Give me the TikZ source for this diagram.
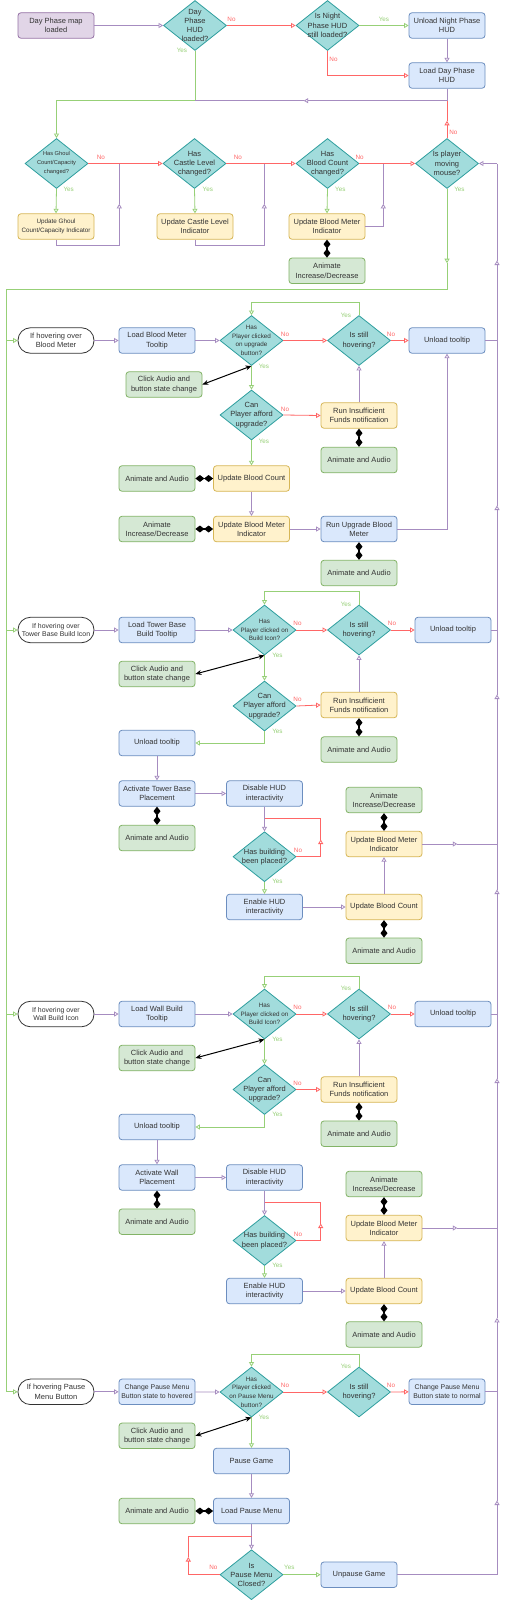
\documentclass[tikz,border=0pt]{standalone}
\usepackage{fontspec}
\setmainfont{Liberation Sans}
\usetikzlibrary{arrows.meta,shapes.geometric}
\definecolor{txt}{HTML}{333333}
\definecolor{purF}{HTML}{E1D5E7}\definecolor{purS}{HTML}{9673A6}
\definecolor{bluF}{HTML}{DAE8FC}\definecolor{bluS}{HTML}{6C8EBF}
\definecolor{yelF}{HTML}{FFF2CC}\definecolor{yelS}{HTML}{D6B656}
\definecolor{grnF}{HTML}{D5E8D4}\definecolor{grnS}{HTML}{82B366}
\definecolor{diaF}{HTML}{A2DCDC}\definecolor{diaS}{HTML}{2E9E9E}
\definecolor{pline}{HTML}{A68CC0}
\definecolor{rline}{HTML}{FF6666}
\definecolor{gline}{HTML}{97D077}
\newcommand{\fnorm}{\fontsize{7.5}{9.2}\selectfont}
\newcommand{\fmid}{\fontsize{6.9}{8.8}\selectfont}
\newcommand{\fsml}{\fontsize{6.3}{8.7}\selectfont}
\newcommand{\ftny}{\fontsize{5.7}{9}\selectfont}
\begin{document}
\begin{tikzpicture}[x=1pt,y=-1pt,
  base/.style={rounded corners=3pt, minimum width=76pt, minimum height=25.5pt, align=center, font=\fnorm, text=txt, line width=0.8pt, inner sep=1pt},
  pbox/.style={base, draw=purS, fill=purF},
  bbox/.style={base, draw=bluS, fill=bluF},
  ybox/.style={base, draw=yelS, fill=yelF},
  gbox/.style={base, draw=grnS, fill=grnF},
  term/.style={base, rounded corners=12.5pt, draw=black!80, fill=white},
  dia/.style={diamond, draw=diaS, fill=diaF, line width=0.8pt, minimum width=63pt, minimum height=50pt, inner sep=0pt},
  dt/.style={align=center, font=\fnorm, text=txt, inner sep=0pt},
  dts/.style={dt, font=\fsml},
  dtt/.style={dt, font=\ftny},
  pl/.style={draw=pline, line width=0.8pt},
  pa/.style={pl, -{Triangle[open, length=4.5pt, width=5pt]}},
  rl/.style={draw=rline, line width=0.8pt},
  ra/.style={rl, -{Triangle[open, length=4.5pt, width=5pt]}},
  gl/.style={draw=gline, line width=0.8pt},
  ga/.style={gl, -{Triangle[open, length=4.5pt, width=5pt]}},
  nol/.style={text=rline, font=\fsml, inner sep=0pt},
  yesl/.style={text=gline, font=\fsml, inner sep=0pt},
  dd/.style={draw=black, line width=1.2pt, {Diamond[length=9pt,width=7pt]}-{Diamond[length=9pt,width=7pt]}},
  bk/.style={draw=black, line width=1pt, {Stealth[length=6pt,width=5pt]}-{Stealth[length=6pt,width=5pt]}}
]
\fill[white] (0,0) rectangle (504,1600);
\useasboundingbox (0,0) rectangle (504,1600);

% ---------- top ----------
\node[pbox] (start) at (56,25.5) {Day Phase map\\loaded};
\node[dia, label={[dt]center:{Day\\Phase\\HUD\\loaded?}}] (dA) at (195,25.5) {};
\node[dia, label={[dt]center:{Is Night\\Phase HUD\\still loaded?}}] (dB) at (327.5,25.5) {};
\node[bbox] (unN) at (447,25.5) {Unload Night Phase\\HUD};
\node[bbox] (ldD) at (447,75.5) {Load Day Phase\\HUD};

\draw[pa] (start) -- (dA);
\draw[ra] (dA.east) -- (dB.west);
\node[nol] at (231.5,19) {No};
\draw[ga] (dB.east) -- (unN.west);
\node[yesl] at (384,19) {Yes};
\draw[pa] (unN) -- (ldD);
\draw[ra] (dB.south) |- (ldD.west);
\node[nol] at (333.5,59) {No};

% ---------- row 2 ----------
\node[dia, label={[dtt]center:{Has Ghoul\\Count/Capacity\\changed?}}] (dG) at (56.5,163.5) {};
\node[dia, label={[dt]center:{Has\\Castle Level\\changed?}}] (dC) at (194.5,163.5) {};
\node[dia, label={[dt]center:{Has\\Blood Count\\changed?}}] (dBC) at (327.5,163.5) {};
\node[dia, label={[dt]center:{Is player\\moving\\mouse?}}] (dM) at (447,163.5) {};
\node[ybox, font=\fsml] (uG) at (56,226.5) {Update Ghoul\\Count/Capacity Indicator};
\node[ybox] (uC) at (195,226.5) {Update Castle Level\\Indicator};
\node[ybox] (uB) at (327,226.5) {Update Blood Meter\\Indicator};
\node[gbox] (aB) at (327,270.8) {Animate\\Increase/Decrease};

\draw[ga] (dA.south) -- (195,100.7) -- (56.5,100.7) -- (dG.north);
\node[yesl] at (182,50.7) {Yes};
\draw[pa] (ldD.south) |- (303.7,100.7);
\draw[pl] (303.7,100.7) -- (195,100.7);
\draw[ra] (dM.north) -- (447,120.8);
\draw[rl] (447,120.8) -- (447,100.7);
\node[nol] at (453.3,132.3) {No};

\draw[ra] (dG.east) -- (dC.west);
\node[nol] at (100.8,157.3) {No};
\draw[ra] (dC.east) -- (dBC.west);
\node[nol] at (237.8,157.3) {No};
\draw[ra] (dBC.east) -- (dM.west);
\node[nol] at (359.7,157.3) {No};
\draw[ga] (dG.south) -- (uG.north);
\node[yesl] at (68.7,189.3) {Yes};
\draw[ga] (dC.south) -- (uC.north);
\node[yesl] at (207.8,189.3) {Yes};
\draw[ga] (dBC.south) -- (uB.north);
\node[yesl] at (340.3,189.3) {Yes};
\node[yesl] at (459.5,189.3) {Yes};

\draw[pa] (uG.south) |- (119.3,245.7) -- (119.3,203.8);
\draw[pl] (119.3,203.8) -- (119.3,163.5);
\draw[pa] (uC.south) |- (264.3,245.7) -- (264.3,203.8);
\draw[pl] (264.3,203.8) -- (264.3,163.5);
\draw[pa] (uB.east) -| (383.3,203.8);
\draw[pl] (383.3,203.8) -- (383.3,163.5);
\draw[dd] (uB.south) -- (aB.north);

% ---------- section 1 : blood meter ----------
\node[term] (t1) at (56,340.5) {If hovering over\\Blood Meter};
\node[bbox] (lt1) at (157,340.5) {Load Blood Meter\\Tooltip};
\node[dia, label={[dts]center:{Has\\Player clicked\\on upgrade\\button?}}] (dP1) at (251.5,340.5) {};
\node[dia, label={[dt]center:{Is still\\hovering?}}] (dH1) at (359,340.5) {};
\node[bbox] (ut1) at (447,340.5) {Unload tooltip};
\node[gbox] (ca1) at (164,384.5) {Click Audio and\\button state change};
\node[dia, label={[dt]center:{Can\\Player afford\\upgrade?}}] (dA1) at (251.5,415) {};
\node[ybox] (ri1) at (359,415.5) {Run Insufficient\\Funds notification};
\node[gbox] (aa1) at (359,460) {Animate and Audio};
\node[ybox] (ubc1) at (251.5,478.5) {Update Blood Count};
\node[gbox] (aa1b) at (157,478.5) {Animate and Audio};
\node[ybox] (ubm1) at (251.5,529) {Update Blood Meter\\Indicator};
\node[gbox] (ai1) at (157,529) {Animate\\Increase/Decrease};
\node[bbox] (ru1) at (359,529) {Run Upgrade Blood\\Meter};
\node[gbox] (aa1c) at (359,573) {Animate and Audio};

\draw[pa] (t1) -- (lt1);
\draw[pa] (lt1) -- (dP1.west);
\draw[ra] (dP1.east) -- (dH1.west);
\node[nol] at (285,334) {No};
\draw[ra] (dH1.east) -- (ut1.west);
\node[nol] at (391,334) {No};
\draw[ga] (dH1.north) -- (359,302.3) -- (251.5,302.3) -- (dP1.north);
\node[yesl] at (346,315) {Yes};
\draw[ga] (dP1.south) -- (dA1.north);
\node[yesl] at (264,366) {Yes};
\draw[bk] (ca1.east) -- (dP1.south);
\draw[ra] (dA1.east) -- (ri1.west);
\node[nol] at (285,409) {No};
\draw[pa] (ri1.north) -- (dH1.south);
\draw[dd] (ri1.south) -- (aa1.north);
\draw[ga] (dA1.south) -- (ubc1.north);
\node[yesl] at (264,441) {Yes};
\draw[dd] (aa1b.east) -- (ubc1.west);
\draw[pa] (ubc1.south) -- (ubm1.north);
\draw[dd] (ai1.east) -- (ubm1.west);
\draw[pa] (ubm1.east) -- (ru1.west);
\draw[pa] (ru1.east) -| (ut1.south);
\draw[dd] (ru1.south) -- (aa1c.north);

% ---------- section 2 : tower base ----------
\node[term, font=\fmid] (t2) at (56,630) {If hovering over\\Tower Base Build Icon};
\node[bbox] (lt2) at (157,630) {Load Tower Base\\Build Tooltip};
\node[dia, label={[dts]center:{Has\\Player clicked on\\Build Icon?}}] (dP2) at (264.5,630) {};
\node[dia, label={[dt]center:{Is still\\hovering?}}] (dH2) at (359,630) {};
\node[bbox] (ut2) at (453,630) {Unload tooltip};
\node[gbox] (ca2) at (157,674) {Click Audio and\\button state change};
\node[dia, label={[dt]center:{Can\\Player afford\\upgrade?}}] (dA2) at (264.5,706) {};
\node[ybox] (ri2) at (359,705) {Run Insufficient\\Funds notification};
\node[gbox] (aa2) at (359,749.5) {Animate and Audio};
\node[bbox] (ul2) at (157,743) {Unload tooltip};
\node[bbox] (ac2) at (157,793.5) {Activate Tower Base\\Placement};
\node[bbox] (dh2) at (264.5,793.5) {Disable HUD\\interactivity};
\node[gbox] (aa2b) at (157,838) {Animate and Audio};
\node[dia, label={[dt]center:{Has building\\been placed?}}] (db2) at (264.5,856.7) {};
\node[bbox] (en2) at (264.5,907) {Enable HUD\\interactivity};
\node[gbox] (ai2) at (384,800) {Animate\\Increase/Decrease};
\node[ybox] (ubm2) at (384,844) {Update Blood Meter\\Indicator};
\node[ybox] (ubc2) at (384,907) {Update Blood Count};
\node[gbox] (aa2c) at (384,950.8) {Animate and Audio};

\draw[pa] (t2) -- (lt2);
\draw[pa] (lt2) -- (dP2.west);
\draw[ra] (dP2.east) -- (dH2.west);
\node[nol] at (297.5,623.7) {No};
\draw[ra] (dH2.east) -- (ut2.west);
\node[nol] at (392,623.7) {No};
\draw[ga] (dH2.north) -- (359,591.7) -- (264.5,591.7) -- (dP2.north);
\node[yesl] at (346,604.3) {Yes};
\draw[ga] (dP2.south) -- (dA2.north);
\node[yesl] at (277.5,655.5) {Yes};
\draw[bk] (ca2.east) -- (dP2.south);
\draw[ra] (dA2.east) -- (ri2.west);
\node[nol] at (297.5,699) {No};
\draw[pa] (ri2.north) -- (dH2.south);
\draw[dd] (ri2.south) -- (aa2.north);
\draw[ga] (dA2.south) |- (ul2.east);
\node[yesl] at (277.5,731) {Yes};
\draw[pa] (ul2.south) -- (ac2.north);
\draw[pa] (ac2.east) -- (dh2.west);
\draw[dd] (ac2.south) -- (aa2b.north);
\draw[pa] (dh2.south) -- (db2.north);
\draw[ra] (db2.east) -- (320.7,856.7) -- (320.7,839.5);
\draw[rl] (320.7,839.5) -- (320.7,818.3) -- (264.5,818.3);
\node[nol] at (298,850) {No};
\draw[ga] (db2.south) -- (en2.north);
\node[yesl] at (277.5,881.7) {Yes};
\draw[pa] (en2.east) -- (ubc2.west);
\draw[pa] (ubc2.north) -- (ubm2.south);
\draw[dd] (ai2.south) -- (ubm2.north);
\draw[dd] (ubc2.south) -- (aa2c.north);
\draw[pa] (ubm2.east) -- (457.3,844);
\draw[pl] (457.3,844) -- (497,844);

% ---------- section 3 : wall ----------
\node[term, font=\fmid] (t3) at (56,1014) {If hovering over\\Wall Build Icon};
\node[bbox] (lt3) at (157,1014) {Load Wall Build\\Tooltip};
\node[dia, label={[dts]center:{Has\\Player clicked on\\Build Icon?}}] (dP3) at (264.5,1014) {};
\node[dia, label={[dt]center:{Is still\\hovering?}}] (dH3) at (359,1014) {};
\node[bbox] (ut3) at (453,1014) {Unload tooltip};
\node[gbox] (ca3) at (157,1058) {Click Audio and\\button state change};
\node[dia, label={[dt]center:{Can\\Player afford\\upgrade?}}] (dA3) at (264.5,1089.5) {};
\node[ybox] (ri3) at (359,1089.5) {Run Insufficient\\Funds notification};
\node[gbox] (aa3) at (359,1133.7) {Animate and Audio};
\node[bbox] (ul3) at (157,1127) {Unload tooltip};
\node[bbox] (ac3) at (157,1177.5) {Activate Wall\\Placement};
\node[bbox] (dh3) at (264.5,1177.5) {Disable HUD\\interactivity};
\node[gbox] (aa3b) at (157,1221.7) {Animate and Audio};
\node[dia, label={[dt]center:{Has building\\been placed?}}] (db3) at (264.5,1240.5) {};
\node[bbox] (en3) at (264.5,1291) {Enable HUD\\interactivity};
\node[gbox] (ai3) at (384,1184) {Animate\\Increase/Decrease};
\node[ybox] (ubm3) at (384,1228) {Update Blood Meter\\Indicator};
\node[ybox] (ubc3) at (384,1291) {Update Blood Count};
\node[gbox] (aa3c) at (384,1334.5) {Animate and Audio};

\draw[pa] (t3) -- (lt3);
\draw[pa] (lt3) -- (dP3.west);
\draw[ra] (dP3.east) -- (dH3.west);
\node[nol] at (297.5,1007.7) {No};
\draw[ra] (dH3.east) -- (ut3.west);
\node[nol] at (392,1007.7) {No};
\draw[ga] (dH3.north) -- (359,976) -- (264.5,976) -- (dP3.north);
\node[yesl] at (346,988.7) {Yes};
\draw[ga] (dP3.south) -- (dA3.north);
\node[yesl] at (277.5,1039) {Yes};
\draw[bk] (ca3.east) -- (dP3.south);
\draw[ra] (dA3.east) -- (ri3.west);
\node[nol] at (297.5,1083.3) {No};
\draw[pa] (ri3.north) -- (dH3.south);
\draw[dd] (ri3.south) -- (aa3.north);
\draw[ga] (dA3.south) |- (ul3.east);
\node[yesl] at (277.5,1114.5) {Yes};
\draw[pa] (ul3.south) -- (ac3.north);
\draw[pa] (ac3.east) -- (dh3.west);
\draw[dd] (ac3.south) -- (aa3b.north);
\draw[pa] (dh3.south) -- (db3.north);
\draw[ra] (db3.east) -- (320.7,1240.5) -- (320.7,1223.5);
\draw[rl] (320.7,1223.5) -- (320.7,1202.7) -- (264.5,1202.7);
\node[nol] at (298,1234.3) {No};
\draw[ga] (db3.south) -- (en3.north);
\node[yesl] at (277.5,1265.7) {Yes};
\draw[pa] (en3.east) -- (ubc3.west);
\draw[pa] (ubc3.north) -- (ubm3.south);
\draw[dd] (ai3.south) -- (ubm3.north);
\draw[dd] (ubc3.south) -- (aa3c.north);
\draw[pa] (ubm3.east) -- (457.3,1228);
\draw[pl] (457.3,1228) -- (497,1228);

% ---------- section 4 : pause ----------
\node[term] (t4) at (56,1391.8) {If hovering Pause\\Menu Button};
\node[bbox, font=\fmid] (cp) at (157,1391.8) {Change Pause Menu\\Button state to hovered};
\node[dia, label={[dts]center:{Has\\Player clicked\\on Pause Menu\\button?}}] (dP4) at (251.5,1392) {};
\node[dia, label={[dt]center:{Is still\\hovering?}}] (dH4) at (359,1392) {};
\node[bbox, font=\fmid] (cn) at (447,1391.8) {Change Pause Menu\\Button state to normal};
\node[gbox] (ca4) at (157,1435.8) {Click Audio and\\button state change};
\node[bbox] (pg) at (251.5,1461) {Pause Game};
\node[bbox] (lp) at (251.5,1511) {Load Pause Menu};
\node[gbox] (aa4) at (157,1511) {Animate and Audio};
\node[dia, label={[dt]center:{Is\\Pause Menu\\Closed?}}] (dc) at (251.5,1574.7) {};
\node[bbox] (up) at (359,1574.7) {Unpause Game};

\draw[pa] (t4) -- (cp);
\draw[pa] (cp) -- (dP4.west);
\draw[ra] (dP4.east) -- (dH4.west);
\node[nol] at (285,1385) {No};
\draw[ra] (dH4.east) -- (cn.west);
\node[nol] at (391,1385) {No};
\draw[ga] (dH4.north) -- (359,1354) -- (251.5,1354) -- (dP4.north);
\node[yesl] at (346,1366) {Yes};
\draw[ga] (dP4.south) -- (pg.north);
\node[yesl] at (264,1417.3) {Yes};
\draw[bk] (ca4.east) -- (dP4.south);
\draw[pa] (pg.south) -- (lp.north);
\draw[dd] (aa4.east) -- (lp.west);
\draw[pa] (lp.south) -- (dc.north);
\draw[ra] (dc.west) -| (188.3,1557);
\draw[rl] (188.3,1557) |- (251.5,1536.7);
\node[nol] at (213.3,1567.7) {No};
\draw[ga] (dc.east) -- (up.west);
\node[yesl] at (289.3,1567.7) {Yes};

% ---------- left green trunk ----------
\draw[ga] (dM.south) -- (447,263.2);
\draw[gl] (447,263.2) |- (6,289.3) -- (6,1391.8);
\draw[ga] (6,1391.8) -- (t4.west);
\draw[ga] (6,340.5) -- (t1.west);
\draw[ga] (6,630) -- (t2.west);
\draw[ga] (6,1014) -- (t3.west);

% ---------- right purple trunk ----------
\draw[pl] (ut1.east) -- (497,340.5);
\draw[pl] (ut2.east) -- (497,630);
\draw[pl] (ut3.east) -- (497,1014);
\draw[pl] (cn.east) -- (497,1391.8);
\draw[pa] (up.east) -| (497,1500.5);
\draw[pl] (497,1500.5) -- (497,1391.8);
\draw[pa] (497,1391.8) -- (497,1317.8);
\draw[pl] (497,1317.8) -- (497,1228);
\draw[pa] (497,1228) -- (497,1078.5);
\draw[pl] (497,1078.5) -- (497,1014);
\draw[pa] (497,1014) -- (497,889.5);
\draw[pl] (497,889.5) -- (497,844);
\draw[pa] (497,844) -- (497,694.5);
\draw[pl] (497,694.5) -- (497,630);
\draw[pa] (497,630) -- (497,505.5);
\draw[pl] (497,505.5) -- (497,340.5);
\draw[pa] (497,340.5) -- (497,260.5);
\draw[pl] (497,260.5) -- (497,163.5);
\draw[pa] (497,163.5) -- (dM.east);
\end{tikzpicture}
\end{document}
